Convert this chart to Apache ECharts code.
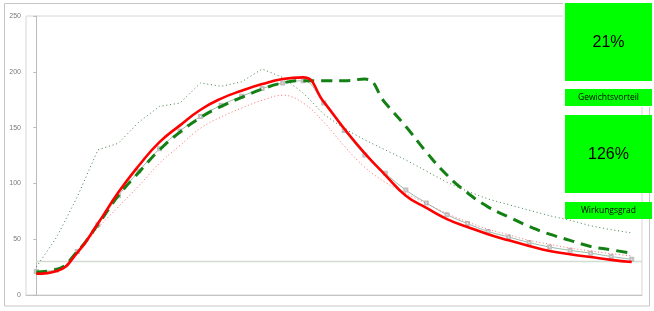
<!DOCTYPE html>
<html>
<head>
<meta charset="utf-8">
<script src="https://cdn.jsdelivr.net/npm/echarts@6/dist/echarts.min.js"></script>
<style>
html,body{margin:0;padding:0;background:#fff;}
#chart{width:654px;height:311px;}
</style>
</head>
<body>
<div id="chart"></div>
<script>
// 30 measurement points (no x labels shown)
const categories = [1,2,3,4,5,6,7,8,9,10,11,12,13,14,15,16,17,18,19,20,21,22,23,24,25,26,27,28,29,30];
const yTicks = [0, 50, 100, 150, 200, 250];
const refLevel = 30;

const redMain    = [19, 21.5, 38, 64, 92, 116, 137, 152, 166, 176, 183, 189, 193.5, 195, 173, 149, 127, 107.5, 89, 78, 68, 61, 54.5, 49, 44, 39.5, 36.5, 34, 31.5, 29.5];
const greenDash  = [20.5, 23, 39, 63, 89, 110, 130, 146, 159, 169, 177, 184.5, 190, 192, 192, 192, 193.5, 172, 151, 128, 107.5, 91.5, 79, 70, 61.5, 54.5, 49, 43.5, 40.5, 37.5];
const greenDot   = [25, 52, 88, 130, 136, 155, 169, 172, 190, 187, 191, 202.5, 195, 181, 162, 149, 139, 130, 121, 111, 101, 93, 86, 81, 76, 71, 67, 62, 58.5, 55.5];
const redDot     = [19, 22, 37, 60, 79, 98, 118, 134, 149.5, 159.5, 167.5, 174.5, 179, 172, 155, 133.5, 114.5, 101, 91, 82, 73, 65.5, 59, 54, 49, 45.5, 42, 39.5, 37, 35];
const grayMark   = [21, 22.5, 39, 63, 89, 111, 131, 147, 160, 170, 178, 185, 190, 192, 172, 147.5, 125.5, 109, 94, 82.5, 72, 64, 57, 52, 47, 43, 40, 37.5, 34.5, 32];

const boxValues = ['21%', '126%'];
const boxLabels = ['Gewichtsvorteil', 'Wirkungsgrad'];

function pts(arr){ return arr.map((v,i)=>[i, v]); }
const n = categories.length;

const chart = echarts.init(document.getElementById('chart'), null, {renderer:'canvas'});
const option = {
  animation: false,
  backgroundColor: '#ffffff',
  grid: {left: 26, right: 12, top: 16, bottom: 16, show: true, borderColor: '#d6d6d6', borderWidth: 1},
  xAxis: {
    type: 'value', min: -0.5, max: n - 0.5,
    axisLine: {show: true, lineStyle: {color: '#c4c4c4'}},
    axisTick: {show: false}, axisLabel: {show: false}, splitLine: {show: false}
  },
  yAxis: {
    type: 'value', min: yTicks[0], max: yTicks[yTicks.length-1], interval: 50,
    axisLine: {show: true, lineStyle: {color: '#bcbcbc'}},
    axisTick: {show: true, length: 3, lineStyle: {color: '#bcbcbc'}},
    axisLabel: {fontSize: 7, color: '#7a7a7a', margin: 5, fontFamily: 'Liberation Sans'},
    splitLine: {show: false}
  },
  series: [
    {
      name: 'Referenz', type: 'line', silent: true, symbol: 'none',
      data: [[0, refLevel], [n - 0.5, refLevel]],
      lineStyle: {color: '#d3dbd3', width: 1.5}, z: 1
    },
    {
      name: 'Grau', type: 'line', data: pts(grayMark), smooth: 0.4, smoothMonotone: 'none',
      symbol: 'emptyRect', symbolSize: 3, showSymbol: true,
      itemStyle: {color: '#c0c0c0', borderColor: '#bdbdbd', borderWidth: 0.6},
      lineStyle: {color: '#98bcac', width: 1}, z: 2
    },
    {
      name: 'Rot gepunktet', type: 'line', data: pts(redDot), smooth: 0.4, smoothMonotone: 'none', symbol: 'none',
      lineStyle: {color: '#ff6a6a', width: 1, type: [1, 2.5]}, z: 3
    },
    {
      name: 'Grün gepunktet', type: 'line', data: pts(greenDot), smooth: false, symbol: 'none',
      lineStyle: {color: '#3f7f4a', width: 1, type: [1, 2.8]}, z: 3
    },
    {
      name: 'Grün gestrichelt', type: 'line', data: pts(greenDash), smooth: 0.5, smoothMonotone: 'none', symbol: 'none',
      lineStyle: {color: '#138013', width: 3, type: [11, 7]}, z: 4
    },
    {
      name: 'Rot', type: 'line', data: pts(redMain), smooth: 0.5, smoothMonotone: 'none', symbol: 'none',
      lineStyle: {color: '#ff0000', width: 2.6}, z: 5
    }
  ],
  graphic: [
    {type: 'rect', z: 0, silent: true, shape: {x: 4.5, y: 3.5, width: 645, height: 302.5},
     style: {fill: 'none', stroke: '#c6c6c6', lineWidth: 1}},
    {type: 'rect', z: 50, silent: true, shape: {x: 563, y: 0, width: 91, height: 107},
     style: {fill: '#ffffff'}},
    {type: 'rect', z: 60, shape: {x: 565, y: 3, width: 87, height: 78}, style: {fill: '#00ff00'}},
    {type: 'text', z: 61, x: 608.5, y: 42.5, style: {text: boxValues[0], fill: '#000', font: '16px "Liberation Sans", Arial, sans-serif', textAlign: 'center', textVerticalAlign: 'middle'}},
    {type: 'rect', z: 60, shape: {x: 565, y: 89, width: 87, height: 17}, style: {fill: '#00ff00'}},
    {type: 'text', z: 61, x: 608.5, y: 97.5, style: {text: boxLabels[0], fill: '#000', font: '8.5px "Open Sans", sans-serif', textAlign: 'center', textVerticalAlign: 'middle'}},
    {type: 'rect', z: 60, shape: {x: 565, y: 115, width: 87, height: 78}, style: {fill: '#00ff00'}},
    {type: 'text', z: 61, x: 608.5, y: 154.5, style: {text: boxValues[1], fill: '#000', font: '16px "Liberation Sans", Arial, sans-serif', textAlign: 'center', textVerticalAlign: 'middle'}},
    {type: 'rect', z: 60, shape: {x: 565, y: 202, width: 87, height: 17}, style: {fill: '#00ff00'}},
    {type: 'text', z: 61, x: 608.5, y: 210.5, style: {text: boxLabels[1], fill: '#000', font: '8.5px "Open Sans", sans-serif', textAlign: 'center', textVerticalAlign: 'middle'}}
  ]
};
chart.setOption(option);
</script>
</body>
</html>
